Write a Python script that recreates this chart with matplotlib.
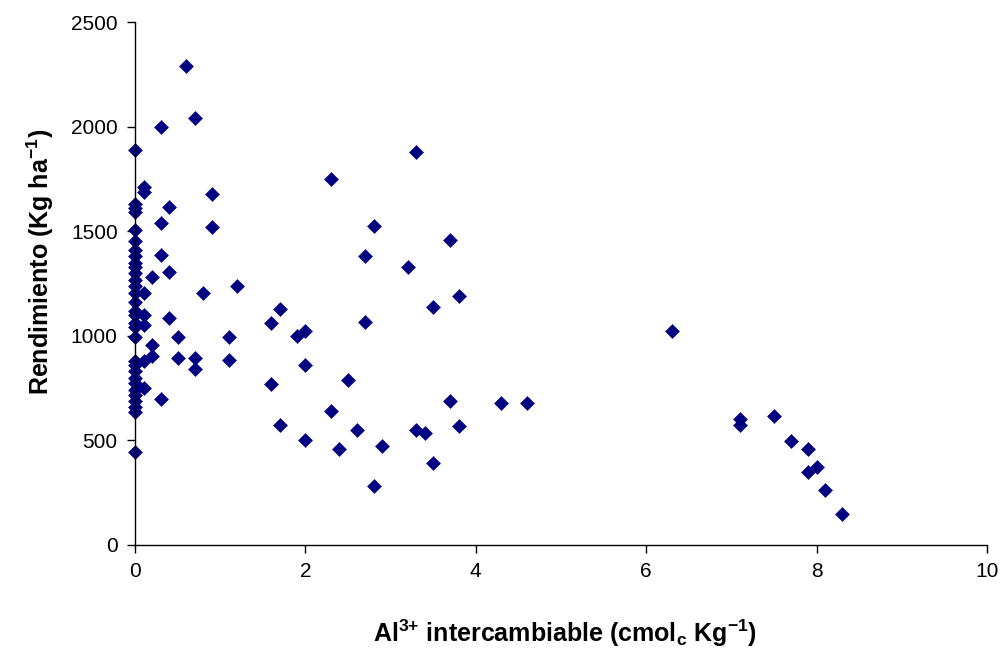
import numpy as np
import matplotlib.pyplot as plt

plt.rcParams['font.family'] = ['Liberation Sans', 'DejaVu Sans']
plt.rcParams['mathtext.fontset'] = 'custom'
plt.rcParams['mathtext.rm'] = 'Liberation Sans'
plt.rcParams['mathtext.bf'] = 'Liberation Sans:bold'

# Al3+ intercambiable (cmolc/kg) vs rendimiento (kg/ha)
al_zero = [0.0] * 31
rend_zero = [1890, 1630, 1610, 1590, 1505, 1455, 1410, 1380, 1350, 1330, 1300,
             1265, 1240, 1205, 1160, 1120, 1100, 1060, 1040, 995, 880, 860, 830,
             800, 775, 740, 715, 690, 660, 635, 445]

al_rest = [0.1, 0.1, 0.1, 0.1, 0.1, 0.1, 0.1,
           0.2, 0.2, 0.2,
           0.3, 0.3, 0.3, 0.3,
           0.4, 0.4, 0.4,
           0.5, 0.5,
           0.6,
           0.7, 0.7, 0.7,
           0.8,
           0.9, 0.9,
           1.1, 1.1,
           1.2,
           1.6, 1.6,
           1.7, 1.7,
           1.9,
           2.0, 2.0, 2.0,
           2.3, 2.3,
           2.4, 2.5, 2.6,
           2.7, 2.7,
           2.8, 2.8,
           2.9,
           3.2,
           3.3, 3.3,
           3.4,
           3.5, 3.5,
           3.7, 3.7,
           3.8, 3.8,
           4.3, 4.6, 6.3,
           7.1, 7.1, 7.5, 7.7,
           7.9, 7.9, 8.0, 8.1, 8.3]
rend_rest = [1710, 1685, 1205, 1100, 1050, 880, 750,
             1280, 955, 905,
             2000, 1540, 1385, 700,
             1615, 1305, 1085,
             995, 895,
             2290,
             2040, 895, 840,
             1205,
             1680, 1520,
             995, 885,
             1240,
             1060, 770,
             1130, 575,
             1000,
             1025, 860, 500,
             1750, 640,
             460, 790, 550,
             1380, 1065,
             1525, 280,
             475,
             1330,
             1880, 550,
             535,
             1140, 390,
             1460, 690,
             1190, 570,
             680, 680, 1025,
             600, 575, 615, 495,
             460, 350, 375, 265, 150]

al = al_zero + al_rest
rend = rend_zero + rend_rest

fig = plt.figure(figsize=(10.03, 6.49), dpi=100)
ax = fig.add_axes([135/1003, 104/649, 852/1003, 523/649])

ax.plot(al, rend, linestyle='none', marker='D', markersize=7.6,
        color='#000080', markeredgewidth=0.4, clip_on=False)

ax.set_xlim(0, 10)
ax.set_ylim(0, 2500)
ax.set_xticks(np.arange(0, 11, 2))
ax.set_yticks(np.arange(0, 2501, 500))
ax.tick_params(labelsize=15, length=5.5, width=1, direction='out', pad=7)

for s in ['top', 'right']:
    ax.spines[s].set_visible(False)
for s in ['left', 'bottom']:
    ax.spines[s].set_linewidth(1)

ax.set_xlabel(r"Al$^{\mathbf{3{+}}}$ intercambiable (cmol$_{\mathbf{c}}$ Kg$^{\mathbf{-1}}$)",
              fontsize=18, fontweight='bold', va='center', ha='center')
ax.set_ylabel(r"Rendimiento (Kg ha$^{\mathbf{-1}}$)",
              fontsize=18, fontweight='bold', va='center', ha='center')
ax.xaxis.set_label_coords(0.505, -0.168)
ax.yaxis.set_label_coords(-0.1115, 0.541)

fig.savefig('out.png', dpi=100)
